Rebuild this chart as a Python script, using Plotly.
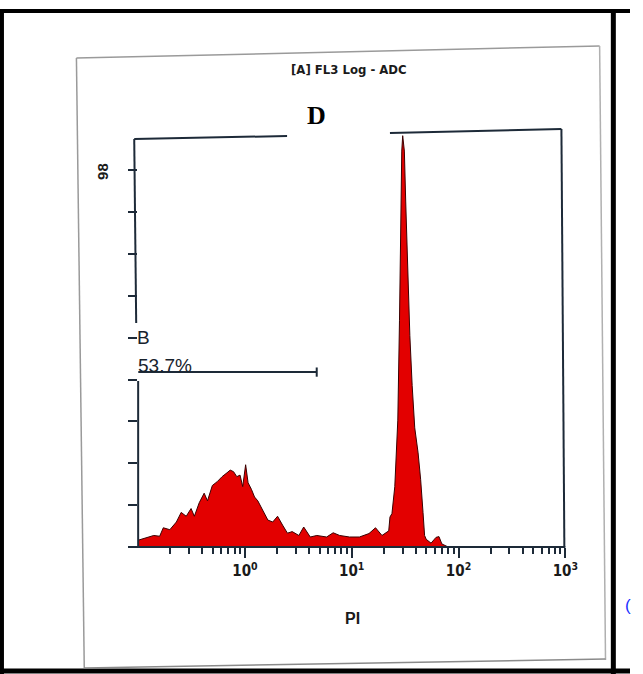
import plotly.graph_objects as go

# ---------------- data ----------------
pi_values = [0.101, 0.121, 0.140, 0.159, 0.172, 0.198, 0.228, 0.253, 0.282, 0.313,
             0.336, 0.373, 0.415, 0.446, 0.495, 0.550, 0.611, 0.679, 0.728, 0.782,
             0.839, 0.900, 0.953, 1.015, 1.07, 1.15, 1.23, 1.32, 1.47, 1.64,
             1.82, 2.02, 2.25, 2.50, 2.77, 3.20, 3.55, 4.09, 4.71, 5.82,
             6.70, 7.71, 9.53, 11.8, 14.5, 16.7, 19.2, 20.5, 22.2, 22.8,
             23.8, 25.3, 27.0, 28.0, 28.8, 29.4, 30.0, 31.1, 32.0, 33.3,
             35.0, 36.8, 38.9, 41.8, 44.2, 46.5, 48.1, 49.8, 55.3, 61.5,
             65.6, 69.8, 76.0, 80.0]
counts = [1.8, 2.5, 3.0, 2.8, 5.0, 4.5, 6.5, 9.0, 8.0, 10.0,
          8.0, 11.5, 14.0, 12.0, 16.0, 17.0, 18.3, 19.3, 20.0, 19.6,
          18.3, 18.7, 15.7, 21.4, 16.7, 15.0, 13.0, 12.0, 9.7, 7.0,
          6.5, 8.0, 5.7, 3.6, 4.0, 3.0, 5.2, 2.6, 3.0, 2.6,
          3.7, 3.0, 2.6, 2.6, 3.5, 5.0, 3.0, 3.6, 4.2, 7.8,
          8.7, 15.7, 33.0, 59.0, 85.0, 103.0, 107.0, 103.0, 90.0, 72.0,
          55.0, 42.0, 31.0, 24.5, 17.5, 9.0, 3.0, 2.0, 1.0, 2.5,
          2.7, 0.8, 0.3, 0.0]

gate_range = [0.1, 4.7]      # region B marker
gate_level = 45.5
gate_label = "53.7%"
gate_name = "B"

x_major = [1, 10, 100, 1000]
x_major_text = ["10<sup>0</sup>", "10<sup>1</sup>", "10<sup>2</sup>", "10<sup>3</sup>"]
x_minor = [m * d for d in (0.1, 1, 10, 100) for m in range(2, 10)]
y_max_label = 98
y_ticks = [k * y_max_label / 9 for k in range(10)]

W, H = 643, 674


def px(x):
    return x / W


def py(y):
    return (H - y) / H


FRAME = "#1d2a38"
NARROW = "DejaVu Sans Condensed, Liberation Sans Narrow, Arial Narrow, sans-serif"
ARIAL = "Liberation Sans, Arial, sans-serif"

fig = go.Figure()
fig.add_trace(go.Scatter(
    x=pi_values, y=counts, mode="lines",
    line=dict(color="#3a0000", width=1),
    fill="tozeroy", fillcolor="#e30000", hoverinfo="skip"))

# gate marker for region B
fig.add_trace(go.Scatter(
    x=[gate_range[0], gate_range[1], None, gate_range[1], gate_range[1]],
    y=[gate_level, gate_level, None, gate_level - 1.2, gate_level + 1.2],
    mode="lines", line=dict(color=FRAME, width=2), hoverinfo="skip"))

shapes = []


def seg(x0, y0, x1, y1, color=FRAME, width=2):
    shapes.append(dict(type="line", xref="paper", yref="paper",
                       x0=px(x0), y0=py(y0), x1=px(x1), y1=py(y1),
                       line=dict(color=color, width=width)))


# outer black border of the scan
seg(0, 11, 643, 11, "#000000", 4)
seg(2, 11, 2, 674, "#000000", 4)
seg(626, 11, 626, 674, "#000000", 5)
seg(0, 671, 643, 671, "#000000", 5)
# grey paper edge
seg(78, 58, 612, 46, "#9a9a9a", 1.5)
seg(78, 58, 86, 668, "#9a9a9a", 1.5)
seg(612, 46, 618, 660, "#b0b0b0", 1.5)
seg(86, 668, 618, 659, "#8a8a8a", 1.5)
# plot frame
seg(137, 139, 293, 136)
seg(398, 133, 573, 129)
seg(573, 129, 576, 547)
seg(137, 139, 139, 323)
seg(141, 381, 141, 547)
seg(132, 547, 577, 547)


def note(text, x, y, family, size, color="#1a1a1a", xanchor="center", angle=0):
    return dict(text=text, x=px(x), y=py(y), xref="paper", yref="paper",
                xanchor=xanchor, yanchor="middle", textangle=angle,
                showarrow=False, font=dict(family=family, size=size, color=color))


annotations = [
    note("<b>[A] FL3 Log - ADC</b>", 356, 69, NARROW, 13),
    note("<b>D</b>", 323, 116, "Liberation Serif, Times New Roman, serif", 26, "#000000"),
    note("<b>%d</b>" % y_max_label, 104, 171, ARIAL, 15, angle=-90),
    note(gate_name, 138, 337, ARIAL, 19, "#18222c", xanchor="left"),
    note(gate_label, 139, 365, ARIAL, 19, "#18222c", xanchor="left"),
    note("<b>PI</b>", 360, 618, ARIAL, 16),
    note("(", 636, 605, ARIAL, 17, "#2030ff", xanchor="left"),
]

fig.update_layout(
    width=W, height=H, autosize=False,
    margin=dict(l=0, r=0, t=0, b=0),
    paper_bgcolor="#ffffff", plot_bgcolor="rgba(0,0,0,0)",
    showlegend=False,
    shapes=shapes, annotations=annotations,
    xaxis=dict(type="log", range=[-1, 3], domain=[px(141), px(577)],
               showline=False, showgrid=False, zeroline=False,
               ticks="outside", ticklen=10, tickwidth=2, tickcolor=FRAME,
               tickvals=x_major, ticktext=x_major_text,
               tickfont=dict(family=NARROW, size=15, color="#1a1a1a", weight="bold"),
               minor=dict(tickvals=x_minor, ticks="outside", ticklen=6, tickwidth=2,
                          tickcolor=FRAME, showgrid=False)),
    yaxis=dict(range=[0, 107.7], domain=[py(547), py(133)],
               showline=False, showgrid=False, zeroline=False,
               ticks="outside", ticklen=9, tickwidth=2, tickcolor=FRAME,
               tickvals=y_ticks, showticklabels=False),
)

fig.write_html("out.html",
               config={"displayModeBar": False, "staticPlot": True},
               post_script="document.documentElement.style.overflow='hidden';"
                           "document.body.style.margin='0px';"
                           "document.body.style.overflow='hidden';")
